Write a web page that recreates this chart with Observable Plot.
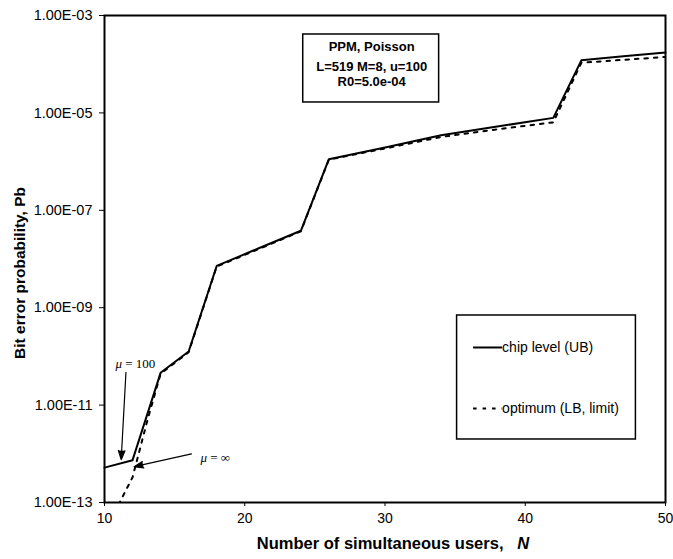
<!DOCTYPE html>
<html><head><meta charset="utf-8">
<script src="https://cdn.jsdelivr.net/npm/d3@7"></script>
<script src="https://cdn.jsdelivr.net/npm/@observablehq/plot@0.6"></script>
<style>body{margin:0;background:#fff}</style>
</head><body><div id="chart"></div>
<script>
// ---- data ----
const chipN  = [10, 12, 14, 16, 18, 21, 24, 26, 30, 34, 38, 42, 44, 47, 50];
const chipPb = [5.2e-13, 7.4e-13, 4.6e-11, 1.26e-10, 7.2e-9, 1.66e-8, 3.8e-8, 1.12e-6, 1.95e-6, 3.47e-6, 5.25e-6, 7.9e-6, 1.2e-4, 1.45e-4, 1.74e-4];
const optN   = [11, 12, 13, 14, 16, 18, 21, 24, 26, 30, 34, 38, 42, 44, 47, 50];
const optPb  = [9e-14, 3.3e-13, 4.2e-12, 4.4e-11, 1.22e-10, 7.0e-9, 1.6e-8, 3.7e-8, 1.1e-6, 1.86e-6, 3.2e-6, 4.6e-6, 6.4e-6, 1.07e-4, 1.23e-4, 1.41e-4];
const seriesNames = ["chip level (UB)", "optimum (LB, limit)"];
const xTicks = [10, 20, 30, 40, 50];
const yTicks = [1e-13, 1e-11, 1e-9, 1e-7, 1e-5, 1e-3];
const yTickLabels = ["1.00E-13", "1.00E-11", "1.00E-09", "1.00E-07", "1.00E-05", "1.00E-03"];
const infoLines = ["PPM, Poisson", "L=519 M=8, u=100", "R0=5.0e-04"];
const muLabels = ["μ = 100", "μ = ∞"];
const xTitle = "Number of simultaneous users,";
const xTitleVar = "N";
const yTitle = "Bit error probability, Pb";

// ---- layout (annotation placement in data units; y given as log10 exponent) ----
const E = e => Math.pow(10, e);
const infoBox = {x1: 24.17, x2: 33.86, y1: E(-3.39), y2: E(-4.786)};
const infoX = 29.05, infoY = [-3.651, -4.047, -4.355].map(E);
const legendBox = {x1: 35.14, x2: 47.89, y1: E(-9.16), y2: E(-11.706)};
const legendLineX = [36.28, 38.35], legendTextX = 38.35, legendY = [-9.817, -11.07].map(E);
const muPos = [{x: 10.78, y: E(-10.146)}, {x: 16.84, y: E(-12.076)}];
const arrows = [
  {x1: 11.53, y1: E(-10.325), x2: 11.19, y2: E(-12.12)},
  {x1: 16.20, y1: E(-12.0), x2: 12.12, y2: E(-12.265)}
];
const yTitlePos = {x: 3.946, y: E(-8.287)};

const chip = chipN.map((n, i) => ({n, pb: chipPb[i]}));
const opt = optN.map((n, i) => ({n, pb: optPb[i]}));
const dash = "3.5,6";
const fmtY = d => {
  const i = yTicks.findIndex(t => Math.abs(Math.log10(t) - Math.log10(d)) < 1e-6);
  return i >= 0 ? yTickLabels[i] : "";
};

const plot = Plot.plot({
  width: 673, height: 559,
  marginLeft: 104, marginRight: 8, marginTop: 15, marginBottom: 57,
  style: {fontFamily: "'Liberation Sans', Arial, sans-serif", fontSize: "14px", background: "#fff", color: "#000", overflow: "visible"},
  x: {domain: [10, 50]},
  y: {type: "log", domain: [1e-13, 1e-3]},
  marks: [
    Plot.axisX({ticks: xTicks, tickSize: 4, tickPadding: 7, label: null, tickFormat: d => String(d), fontSize: 14}),
    Plot.axisY({ticks: yTicks, tickSize: 5, tickPadding: 7, label: null, tickFormat: fmtY, fontSize: 14.5}),
    Plot.frame({stroke: "#000", strokeWidth: 2}),
    Plot.line(opt, {x: "n", y: "pb", stroke: "#000", strokeWidth: 2, strokeDasharray: dash, clip: true}),
    Plot.line(chip, {x: "n", y: "pb", stroke: "#000", strokeWidth: 2}),
    // info box
    Plot.rect([infoBox], {x1: "x1", x2: "x2", y1: "y1", y2: "y2", fill: "#fff", stroke: "#000", strokeWidth: 1.5}),
    Plot.text(infoLines, {x: () => infoX, y: (d, i) => infoY[i], text: d => d, fontWeight: "bold", fontSize: 13}),
    // legend
    Plot.rect([legendBox], {x1: "x1", x2: "x2", y1: "y1", y2: "y2", fill: "#fff", stroke: "#000", strokeWidth: 1.5}),
    Plot.link([0], {x1: () => legendLineX[0], x2: () => legendLineX[1], y1: () => legendY[0], y2: () => legendY[0], stroke: "#000", strokeWidth: 2}),
    Plot.link([1], {x1: () => legendLineX[0], x2: () => legendLineX[1], y1: () => legendY[1], y2: () => legendY[1], stroke: "#000", strokeWidth: 2, strokeDasharray: dash}),
    Plot.text(seriesNames, {x: () => legendTextX, y: (d, i) => legendY[i], text: d => d, textAnchor: "start", fontSize: 14}),
    // mu annotations
    Plot.arrow(arrows, {x1: "x1", y1: "y1", x2: "x2", y2: "y2", stroke: "#000", fill: "#000", strokeWidth: 1.2, headLength: 12, headAngle: 40}),
    Plot.text(muLabels, {x: (d, i) => muPos[i].x, y: (d, i) => muPos[i].y, text: d => d, textAnchor: "start", fontFamily: "'Liberation Serif', 'DejaVu Serif', serif", fontSize: 13}),
    // axis titles
    Plot.text([yTitle], {x: () => yTitlePos.x, y: () => yTitlePos.y, rotate: -90, text: d => d, fontWeight: "bold", fontSize: 15.5}),
    Plot.text([xTitle], {frameAnchor: "bottom", dx: 8, dy: 46, text: d => d, fontWeight: "bold", fontSize: 16.5})
  ]
});

// mixed styles: italic N and italic mu
const sel = d3.select(plot);
sel.selectAll("text").each(function() {
  const t = d3.select(this);
  const s = this.textContent;
  if (s === xTitle) {
    t.text(xTitle + "\u00a0\u00a0\u00a0");
    t.append("tspan").attr("font-style", "italic").text(xTitleVar);
  } else if (muLabels.includes(s)) {
    t.text("");
    t.append("tspan").attr("font-style", "italic").text(s.slice(0, 1));
    t.append("tspan").text(s.slice(1));
  }
});
document.getElementById("chart").append(plot);
</script>
</body></html>
